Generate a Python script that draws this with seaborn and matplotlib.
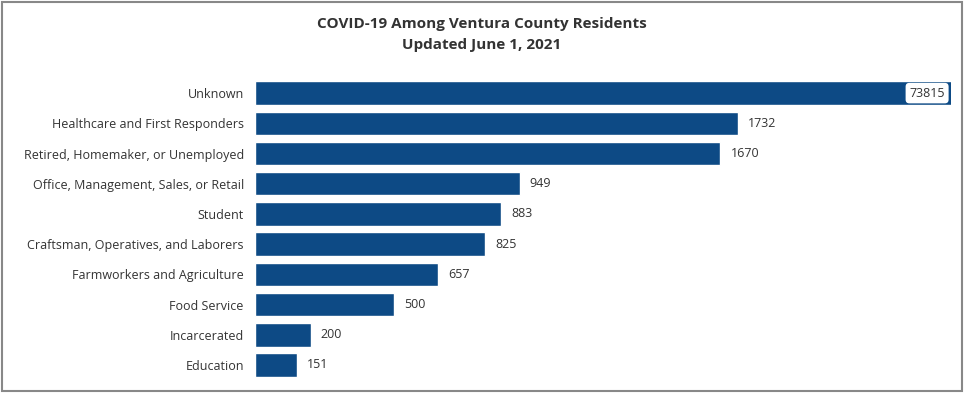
import matplotlib
matplotlib.use("Agg")
import matplotlib.pyplot as plt
import matplotlib.patches as patches
import pandas as pd
import seaborn as sns

categories = [
    "Unknown",
    "Healthcare and First Responders",
    "Retired, Homemaker, or Unemployed",
    "Office, Management, Sales, or Retail",
    "Student",
    "Craftsman, Operatives, and Laborers",
    "Farmworkers and Agriculture",
    "Food Service",
    "Incarcerated",
    "Education",
]
cases = [73815, 1732, 1670, 949, 883, 825, 657, 500, 200, 151]

bar_color = "#0d4a85"
text_color = "#333333"
x_max = 2497  # axis is capped, Unknown runs off the end

sns.set_style("white")
plt.rcParams["font.family"] = ["Open Sans", "DejaVu Sans"]

df = pd.DataFrame({"category": categories, "cases": cases})

fig = plt.figure(figsize=(9.64, 3.93), dpi=100)
ax = fig.add_axes([0.2645, 0.033, 0.722, 0.7685])

sns.barplot(data=df, x="cases", y="category", orient="h", color=bar_color,
            saturation=1, width=0.78, ax=ax)
ax.set_xlim(0, x_max)

# value labels
for i, v in enumerate(cases):
    if v > x_max:
        ax.text(x_max - 22, i, str(v), ha="right", va="center", fontsize=9,
                color=text_color,
                bbox=dict(boxstyle="round,pad=0.3", fc="white", ec="none"))
    else:
        ax.text(v + 36, i, str(v), ha="left", va="center", fontsize=9,
                color=text_color)

ax.set_xlabel("")
ax.set_ylabel("")
ax.set_xticks([])
ax.tick_params(axis="y", length=0, pad=8, labelsize=9, labelcolor=text_color)
sns.despine(ax=ax, left=True, bottom=True)

fig.text(0.5, 0.94, "COVID-19 Among Ventura County Residents", ha="center",
         va="center", fontsize=11, fontweight="bold", color=text_color)
fig.text(0.5, 0.885, "Updated June 1, 2021", ha="center", va="center",
         fontsize=11, fontweight="bold", color=text_color)

# gray frame around the whole picture
fig.patches.append(patches.Rectangle((0.002, 0.004), 0.996, 0.992,
                                     transform=fig.transFigure, fill=False,
                                     edgecolor="#888888", linewidth=1.5))

fig.savefig("out.png", dpi=100)
